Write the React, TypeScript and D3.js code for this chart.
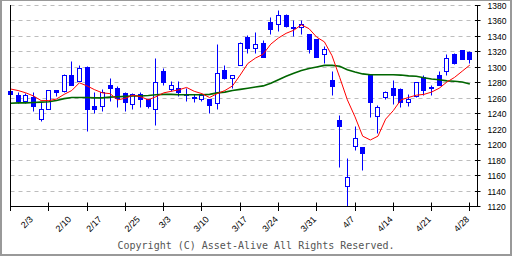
import React from "react";
import * as d3 from "d3";

const dates = [
  "1/30","1/31","2/3","2/4","2/5","2/6","2/7","2/10","2/12","2/13","2/14",
  "2/17","2/18","2/19","2/20","2/21","2/25","2/26","2/27","2/28",
  "3/3","3/4","3/5","3/6","3/7","3/10","3/11","3/12","3/13","3/14",
  "3/17","3/18","3/19","3/21","3/24","3/25","3/26","3/27","3/28",
  "3/31","4/1","4/2","4/3","4/4","4/7","4/8","4/9","4/10","4/11",
  "4/14","4/15","4/16","4/17","4/18","4/21","4/22","4/23","4/24","4/25",
  "4/28","4/30"
];
const opens = [1269,1263,1256,1261,1233,1246,1270,1269,1290,1282,1300,1250,1249,1277,1273,1266,1252,1265,1259,1246,1295,1271,1272,1265,1261,1259,1259,1253,1296,1285,1302,1339,1324,1331,1358,1356,1367,1352,1351,1342,1336,1317,1283,1231,1146,1198,1196,1289,1237,1261,1273,1271,1254,1262,1287,1273,1289,1295,1317,1322,1319];
const highs = [1271,1268,1266,1268,1254,1270,1270,1291,1308,1303,1301,1268,1271,1286,1275,1267,1266,1268,1259,1311,1299,1282,1282,1273,1265,1266,1259,1329,1303,1290,1332,1341,1345,1335,1364,1374,1368,1360,1360,1342,1336,1327,1295,1238,1182,1224,1196,1289,1251,1269,1283,1273,1265,1281,1289,1276,1295,1316,1318,1322,1321];
const lows = [1263,1253,1253,1243,1230,1245,1262,1268,1276,1282,1217,1240,1243,1256,1248,1243,1245,1248,1247,1225,1276,1269,1262,1256,1254,1256,1240,1245,1284,1272,1302,1318,1318,1313,1342,1346,1351,1340,1343,1318,1313,1305,1263,1170,1120,1193,1167,1235,1214,1258,1252,1248,1249,1261,1264,1264,1276,1289,1304,1310,1305];
const closes = [1265,1256,1263,1250,1246,1270,1267,1290,1276,1299,1246,1245,1268,1272,1260,1255,1265,1259,1249,1281,1280,1276,1267,1264,1260,1263,1251,1292,1285,1290,1331,1324,1329,1313,1349,1367,1353,1350,1356,1323,1313,1323,1275,1224,1157,1208,1189,1254,1248,1267,1264,1254,1259,1280,1270,1274,1277,1312,1305,1310,1310];
const ma5 = [1272,1270,1267,1263,1257,1257,1259,1265,1270,1280,1276,1271,1267,1266,1258,1260,1264,1262,1258,1262,1267,1269,1271,1274,1269,1266,1261,1266,1270,1276,1290,1305,1312,1317,1330,1338,1344,1348,1355,1350,1339,1333,1315,1287,1258,1236,1211,1206,1211,1233,1244,1258,1261,1264,1265,1268,1273,1281,1287,1295,1303];
const ma25 = [1253.5,1254,1254,1254.5,1255,1255.5,1257,1259.5,1261,1261,1261,1260.5,1260.5,1261.5,1262,1262.5,1263,1263,1263.5,1264.5,1265,1265,1264.5,1264.5,1264.5,1264.5,1265,1267,1268,1270,1271.5,1273,1274.5,1276,1279.5,1284,1288.5,1292.5,1296,1298.5,1300.5,1302.5,1302.5,1301.5,1297,1294,1291.5,1290.5,1290.5,1290.5,1290.5,1290,1289,1288.5,1286.5,1285,1284,1282.5,1282,1281,1278.5];
const xTickLabels = ["2/3","2/10","2/17","2/25","3/3","3/10","3/17","3/24","3/31","4/7","4/14","4/21","4/28"];
const yTicks = [1120,1140,1160,1180,1200,1220,1240,1260,1280,1300,1320,1340,1360,1380];

export default function App() {
  const W = 512, H = 256;
  const n = dates.length;
  const x = d3.scaleLinear().domain([0, n]).range([10.5, 477.5]);
  const step = x(1) - x(0);
  const y = d3.scaleLinear().domain([1120, 1380]).range([206.5, 5.5]);
  const cx = (i: number) => Math.round(x(i) - 0.5) + 0.5;
  const py = (v: number) => Math.round(y(v) - 0.5) + 0.5;
  const line = d3.line<number>().x((_, i) => x(i)).y((v) => y(v));
  const blue = "#0000ff";
  const tickIdx = d3.range(0, n, 5);

  return (
    <svg width={W} height={H} style={{ position: "fixed", left: 0, top: 0, display: "block", background: "#fff" }}>
      <rect x={0} y={0} width={W} height={H} fill="#fff" />
      {/* grid */}
      {yTicks.filter((v) => v !== 1120).map((v) => (
        <line key={"g" + v} x1={10.5} x2={477.5} y1={py(v)} y2={py(v)} stroke="#bdbdbd" strokeWidth={1} strokeDasharray="4,4" />
      ))}
      {/* candles */}
      {dates.map((d, i) => {
        const up = closes[i] >= opens[i];
        const c = cx(i);
        const top = py(Math.max(opens[i], closes[i]));
        const bot = py(Math.min(opens[i], closes[i]));
        return (
          <g key={"c" + i}>
            <line x1={c} x2={c} y1={py(highs[i])} y2={py(lows[i])} stroke={blue} strokeWidth={1} />
            {up ? (
              <rect x={c - 2} y={top} width={4} height={Math.max(bot - top, 1)} fill="#fff" stroke={blue} strokeWidth={1} />
            ) : (
              <rect x={c - 2.5} y={top - 0.5} width={5} height={Math.max(bot - top, 0) + 1} fill={blue} />
            )}
          </g>
        );
      })}
      {/* moving averages */}
      <path d={line(ma25) || ""} fill="none" stroke="#006600" strokeWidth={1.6} />
      <path d={line(ma5) || ""} fill="none" stroke="#ff0000" strokeWidth={1} />
      {/* axes */}
      <line x1={10.5} x2={10.5} y1={5} y2={206.5} stroke="#000" strokeWidth={1} />
      <line x1={477.5} x2={477.5} y1={5} y2={206.5} stroke="#000" strokeWidth={1} />
      <line x1={10.5} x2={477.5} y1={206.5} y2={206.5} stroke="#000" strokeWidth={1} />
      {tickIdx.map((i) => (
        <line key={"xt" + i} x1={cx(i)} x2={cx(i)} y1={202.5} y2={211} stroke="#000" strokeWidth={1} />
      ))}
      {yTicks.map((v) => (
        <g key={"yt" + v}>
          <line x1={475} x2={480.5} y1={py(v)} y2={py(v)} stroke="#000" strokeWidth={1} />
          <text x={487.5} y={py(v) + 3} fontFamily="Liberation Sans, Arial, sans-serif" fontSize={8.5} fill="#000">{v}</text>
        </g>
      ))}
      {xTickLabels.map((lab) => {
        const i = dates.indexOf(lab);
        return (
          <text key={"xl" + lab} transform={`translate(${x(i) + step},220) rotate(-45)`} textAnchor="end"
            fontFamily="Liberation Sans, Arial, sans-serif" fontSize={9} fill="#000">{lab}</text>
        );
      })}
      <text x={256} y={249} textAnchor="middle" fontFamily="DejaVu Sans Mono, monospace" fontSize={10} fill="#555">
        Copyright (C) Asset-Alive All Rights Reserved.
      </text>
      {/* outer frame */}
      <rect x={0} y={0} width={2} height={H} fill="#999" />
      <rect x={0} y={0} width={W} height={1} fill="#999" />
      <rect x={W - 2} y={0} width={2} height={H} fill="#999" />
      <rect x={0} y={H - 2} width={W} height={2} fill="#999" />
    </svg>
  );
}
